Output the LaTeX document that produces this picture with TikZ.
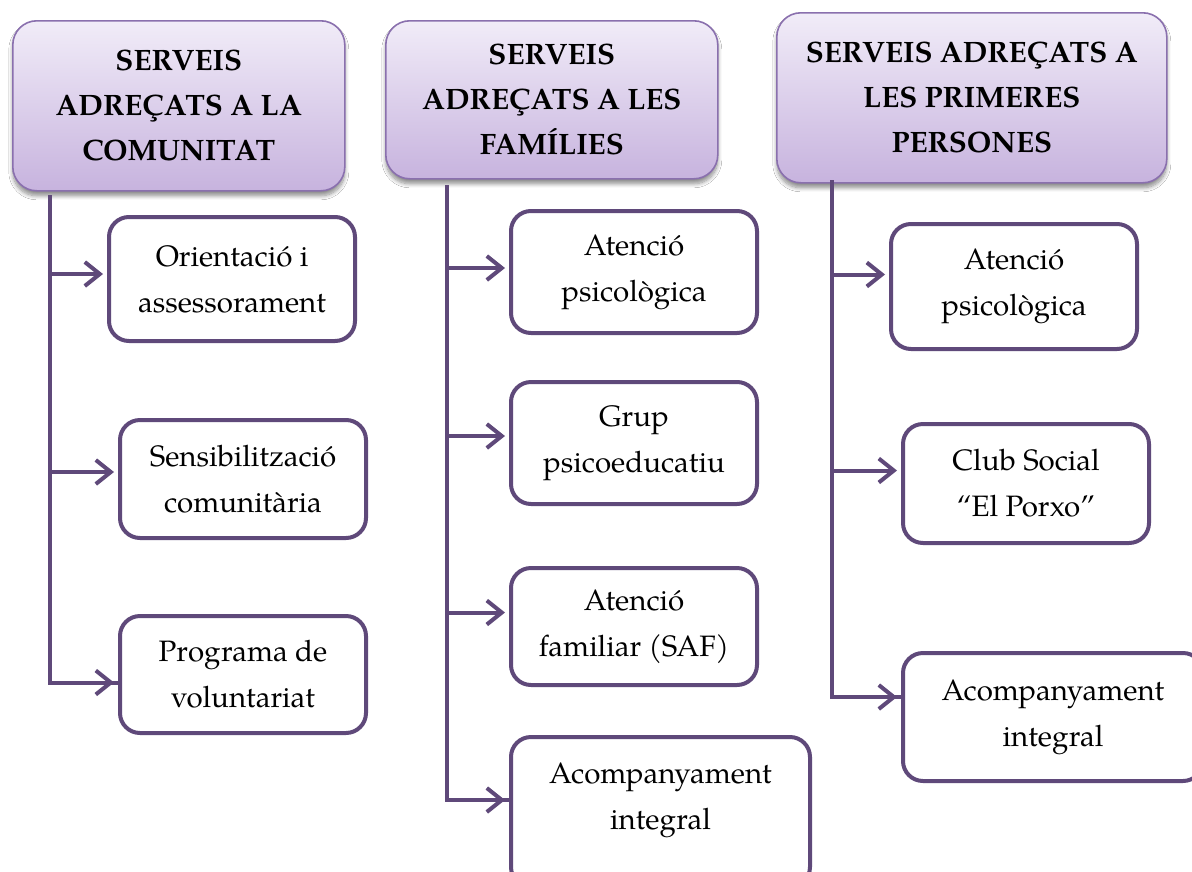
\documentclass[tikz,border=0pt]{standalone}
\usepackage{fontspec}
\setmainfont{TeX Gyre Pagella}
\usetikzlibrary{arrows.meta,shadows.blur}
\definecolor{hdraw}{HTML}{8A70AE}
\definecolor{htop}{HTML}{F1ECF8}
\definecolor{hbot}{HTML}{C7B3DE}
\definecolor{cdraw}{HTML}{5F497A}
\tikzset{
  head/.style={draw=hdraw, line width=1.6pt, rounded corners=24pt,
    top color=htop, bottom color=hbot, anchor=north west, align=center,
    font=\fontsize{29.5}{45}\selectfont\bfseries, inner sep=0pt,
    blur shadow={shadow xshift=0pt, shadow yshift=-5pt, shadow blur steps=8, shadow blur radius=4pt, shadow opacity=45}},
  item/.style={draw=cdraw, line width=4pt, rounded corners=20pt, fill=white,
    anchor=north west, align=center, inner sep=0pt,
    font=\fontsize{29.5}{46}\selectfont},
  itemtext/.style={align=center, inner sep=0pt, font=\fontsize{29.5}{46}\selectfont},
  conn/.style={draw=cdraw, line width=4pt},
  arr/.style={conn, -{Straight Barb[length=15pt,width=24pt,line width=4pt]}, shorten >=4pt}
}
\begin{document}
\begin{tikzpicture}[x=1pt,y=-1pt]
\useasboundingbox (0,0) rectangle (1192,871);
\fill[white] (0,0) rectangle (1192,871);
% headers
\node[head, minimum width=332pt, minimum height=170pt] (h1) at (12,20) {SERVEIS\\ADREÇATS A LA\\COMUNITAT};
\node[head, minimum width=332pt, minimum height=158pt] (h2) at (385,20) {SERVEIS\\ADREÇATS A LES\\FAMÍLIES};
\node[head, minimum width=390pt, minimum height=170pt] (h3) at (776,12) {SERVEIS ADREÇATS A\\LES PRIMERES\\PERSONES};
% column 1
\node[item, minimum width=246pt, minimum height=124pt] (a1) at (107,215) {Orientació i\\assessorament};
\node[item, minimum width=246pt, minimum height=118pt] (a2) at (118,418) {Sensibilització\\comunitària};
\node[item, minimum width=246pt, minimum height=117pt] (a3) at (118,614) {Programa de\\voluntariat};
% column 2
\node[item, minimum width=246pt, minimum height=122pt] (b1) at (509,209) {Atenció\\psicològica};
\node[item, minimum width=246pt, minimum height=122pt] (b2) at (509,380) {Grup\\psicoeducatiu};
\node[item, minimum width=246pt, minimum height=117pt] (b3) at (509,566) {Atenció\\familiar (SAF)};
\node[item, minimum width=299pt, minimum height=150pt] (b4) at (509,735) {};
\node[itemtext] (b4t) at ([yshift=-65pt]b4.north) {Acompanyament\\integral};
% column 3
\node[item, minimum width=246pt, minimum height=125pt] (c1) at (889,222) {Atenció\\psicològica};
\node[item, minimum width=246pt, minimum height=119pt] (c2) at (901,422) {Club Social\\“El Porxo”};
\node[item, minimum width=300pt, minimum height=128pt] (c3) at (901,651) {Acompanyament\\integral};
% trunk coordinates
\coordinate (t1) at (50,195);
\coordinate (t2) at (447,185);
\coordinate (t3) at (832,180);
% arrow targets
\coordinate (pa1) at ([yshift=5pt]a1.west);
\coordinate (pa2) at ([yshift=7pt]a2.west);
\coordinate (pa3) at ([yshift=-8pt]a3.west);
\coordinate (pb1) at ([yshift=4pt]b1.west);
\coordinate (pb2) at ([yshift=7pt]b2.west);
\coordinate (pb3) at ([yshift=14pt]b3.west);
\coordinate (pb4) at (b4.west |- b4t.west);
\coordinate (pc1) at ([yshift=12pt]c1.west);
\coordinate (pc2) at ([yshift=13pt]c2.west);
\coordinate (pc3) at ([yshift=20pt]c3.west);
% connectors column 1
\draw[conn] (t1) |- (pa3);
\draw[arr] (t1 |- pa1) -- (pa1);
\draw[arr] (t1 |- pa2) -- (pa2);
\draw[arr] (t1 |- pa3) -- (pa3);
% connectors column 2
\draw[conn] (t2) |- (pb4);
\draw[arr] (t2 |- pb1) -- (pb1);
\draw[arr] (t2 |- pb2) -- (pb2);
\draw[arr] (t2 |- pb3) -- (pb3);
\draw[arr] (t2 |- pb4) -- (pb4);
% connectors column 3
\draw[conn] (t3) |- (pc3);
\draw[arr] (t3 |- pc1) -- (pc1);
\draw[arr] (t3 |- pc2) -- (pc2);
\draw[arr] (t3 |- pc3) -- (pc3);
\end{tikzpicture}
\end{document}
